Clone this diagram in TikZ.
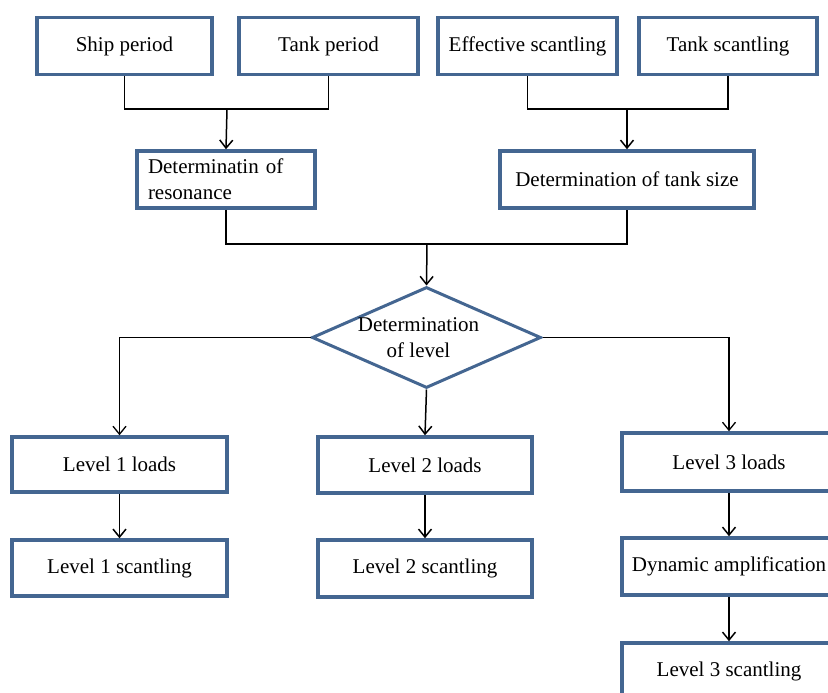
\documentclass[tikz,border=0pt]{standalone}
\usepackage{fontspec}
\setmainfont{Liberation Serif}
\usetikzlibrary{shapes.geometric,arrows.meta}

\begin{document}
\begin{tikzpicture}[x=1pt, y=-1pt,
	every node/.style={font=\fontsize{21}{26}\selectfont},
	box/.style={draw=boxblue, line width=3.5pt, rectangle, inner sep=0pt, minimum height=57pt},
	arr/.style={-{Straight Barb[length=8pt,width=13pt]}}]
	\definecolor{boxblue}{RGB}{68,102,145}
	\useasboundingbox (0,0) rectangle (828,693);
	\clip (0,0) rectangle (828,693);

	\node (ship) at (124.5, 46) [box, minimum width=175pt] {Ship period};
	\node (tank) at (328.5, 46) [box, minimum width=179pt] {Tank period};
	\node (eff) at (527.5, 46) [box, minimum width=179pt] {Effective scantling};
	\node (tsc) at (728, 46) [box, minimum width=178pt] {Tank scantling};
	\node (reso) at (226, 179.5) [box, minimum width=178pt, text width=156pt, align=left] {Determinatin of\\resonance};
	\node (size) at (627, 179.5) [box, minimum width=254pt] {Determination of tank size};
	\node (lev) at (426.5, 337.5) [draw=boxblue, line width=3pt, diamond, inner sep=0pt, minimum width=229pt, minimum height=101pt,
		label={[align=center, xshift=-8pt]center:Determination\\of level}] {};
	\node (l1) at (119.5, 464.5) [box, minimum width=215pt, minimum height=55pt] {Level 1 loads};
	\node (s1) at (119.5, 568) [box, minimum width=215pt, minimum height=56pt] {Level 1 scantling};
	\node (l2) at (425, 465) [box, minimum width=214pt, minimum height=56pt] {Level 2 loads};
	\node (s2) at (425, 568.5) [box, minimum width=214pt] {Level 2 scantling};
	\node (l3) at (729, 462) [box, minimum width=214pt, minimum height=58pt] {Level 3 loads};
	\node (dyn) at (729, 566.5) [box, minimum width=214pt] {Dynamic amplification};
	\node (s3) at (729, 671.5) [box, minimum width=214pt] {Level 3 scantling};

	\coordinate (j1) at (227, 109);
	\coordinate (j2) at (627, 109);
	\coordinate (j3) at (427, 244);

	\draw[line width=1.5pt] (ship.south) |- (j1) -| (tank.south);
	\draw[line width=1.5pt] (eff.south) |- (j2) -| (tsc.south);
	\draw[line width=1.8pt] (reso.south) |- (j3) -| (size.south);
	\draw[line width=1.3pt, arr] (lev.west) -| (l1.north);
	\draw[line width=1.3pt, arr] (lev.east) -| (l3.north);

	\path[line width=1.5pt, arr]
		(j1) edge (reso.north)
		(j2) edge (size.north)
		(j3) edge (lev.north)
		(lev.south) edge (l2.north)
		(l1) edge (s1)
		(l2) edge (s2)
		(l3) edge (dyn)
		(dyn) edge (s3);

\end{tikzpicture}
\end{document}
